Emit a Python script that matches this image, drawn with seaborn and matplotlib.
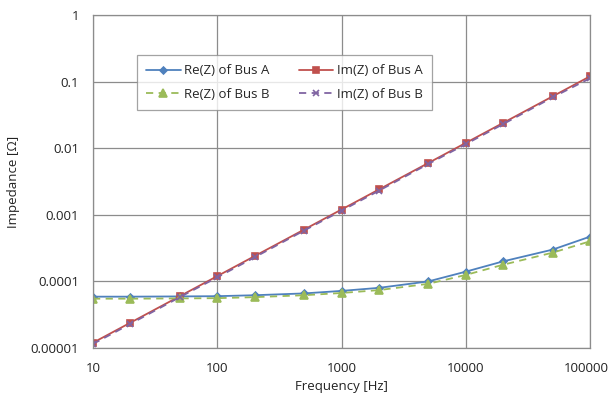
import matplotlib
matplotlib.use("Agg")
import matplotlib.pyplot as plt
import matplotlib.ticker as mticker
import matplotlib.transforms as mtransforms
import seaborn as sns
import pandas as pd
import numpy as np

freq = [10, 20, 50, 100, 200, 500, 1000, 2000, 5000, 10000, 20000, 50000, 100000]
re_a = [5.9e-5, 5.9e-5, 5.95e-5, 6.0e-5, 6.2e-5, 6.6e-5, 7.2e-5, 8.0e-5, 1.0e-4, 1.4e-4, 2.0e-4, 3.0e-4, 4.7e-4]
im_a = [1.2e-5, 2.4e-5, 6.0e-5, 1.2e-4, 2.4e-4, 6.0e-4, 1.2e-3, 2.4e-3, 6.0e-3, 1.2e-2, 2.4e-2, 6.0e-2, 1.2e-1]
re_b = [5.5e-5, 5.5e-5, 5.55e-5, 5.6e-5, 5.8e-5, 6.2e-5, 6.7e-5, 7.4e-5, 9.2e-5, 1.25e-4, 1.78e-4, 2.7e-4, 4.0e-4]
im_b = [1.15e-5, 2.3e-5, 5.8e-5, 1.15e-4, 2.3e-4, 5.8e-4, 1.15e-3, 2.3e-3, 5.8e-3, 1.15e-2, 2.3e-2, 5.8e-2, 1.12e-1]
series_names = ["Re(Z) of Bus A", "Im(Z) of Bus A", "Re(Z) of Bus B", "Im(Z) of Bus B"]
x_ticks = [10, 100, 1000, 10000, 100000]
x_tick_labels = ["10", "100", "1000", "10000", "100000"]
y_ticks = [1e-5, 1e-4, 1e-3, 1e-2, 1e-1, 1]
y_tick_labels = ["0.00001", "0.0001", "0.001", "0.01", "0.1", "1"]

sns.set_style("white")
plt.rcParams["font.family"] = ["Open Sans", "DejaVu Sans"]

fig = plt.figure(figsize=(6.10, 3.98), dpi=100)
ax = fig.add_axes([93/610, 1 - 348/398, (590-93)/610, (348-15)/398])

styles = [
    dict(color="#4F81BD", marker="D", markersize=3.5, linestyle="-"),
    dict(color="#C0504D", marker="s", markersize=5, linestyle="-"),
    dict(color="#9BBB59", marker="^", markersize=5.5, linestyle=(0, (4, 3))),
    dict(color="#8064A2", marker="x", markersize=4.5, linestyle=(0, (4, 3))),
]
for name, vals, st in zip(series_names, [re_a, im_a, re_b, im_b], styles):
    df = pd.DataFrame({"f": freq, "z": vals})
    sns.lineplot(data=df, x="f", y="z", ax=ax, label=name, linewidth=1.3,
                 markeredgecolor=st["color"], markeredgewidth=1.2, **st)

ax.set_xscale("log")
ax.set_yscale("log")
ax.set_xlim(10, 100000)
ax.set_ylim(1e-5, 1)
ax.xaxis.set_major_locator(mticker.FixedLocator(x_ticks))
ax.xaxis.set_major_formatter(mticker.FixedFormatter(x_tick_labels))
ax.yaxis.set_major_locator(mticker.FixedLocator(y_ticks))
ax.yaxis.set_major_formatter(mticker.FixedFormatter(y_tick_labels))
ax.xaxis.set_minor_locator(mticker.NullLocator())
ax.yaxis.set_minor_locator(mticker.NullLocator())
ax.grid(True, color="#8c8c8c", linewidth=0.9)
for s in ax.spines.values():
    s.set_color("#8c8c8c")
    s.set_linewidth(0.9)
ax.tick_params(axis="both", which="major", length=4, color="#8c8c8c", labelsize=9.5, labelcolor="#222222", pad=6)
ax.set_xlabel("Frequency [Hz]", fontsize=9.5, color="#222222", labelpad=4)
ax.set_ylabel("Impedance [Ω]", fontsize=9.5, color="#222222", labelpad=8)

# nudge the last x tick label so it stays inside the figure
last = ax.get_xticklabels()[-1]
last.set_transform(last.get_transform() + mtransforms.ScaledTranslation(-4/100, 0, fig.dpi_scale_trans))

h, l = ax.get_legend_handles_labels()
order = [0, 2, 1, 3]
leg = ax.legend([h[i] for i in order], [l[i] for i in order], ncol=2, loc="upper left",
                bbox_to_anchor=((137-93)/497, 1 - (55-15)/333), borderaxespad=0,
                frameon=True, fancybox=False, fontsize=9.5, handlelength=2.6,
                columnspacing=2.2, handletextpad=0.3, borderpad=0.7, labelspacing=0.8)
leg.get_frame().set_edgecolor("#8c8c8c")
leg.get_frame().set_linewidth(0.9)

fig.savefig("out.png", dpi=100)
